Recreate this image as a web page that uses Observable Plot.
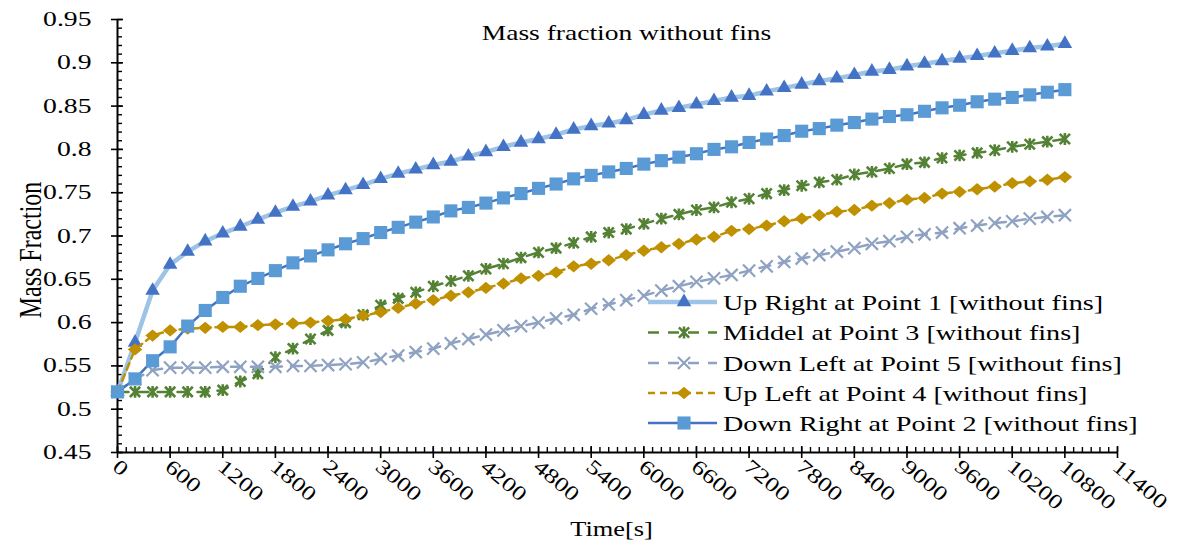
<!DOCTYPE html>
<html><head><meta charset="utf-8">
<script src="https://cdn.jsdelivr.net/npm/d3@7"></script>
<script src="https://cdn.jsdelivr.net/npm/@observablehq/plot@0.6"></script>
<style>html,body{margin:0;padding:0;background:#fff}</style>
</head><body><div id="chart"></div>
<script>
const times = [0,200,400,600,800,1000,1200,1400,1600,1800,2000,2200,2400,2600,2800,3000,3200,3400,3600,3800,4000,4200,4400,4600,4800,5000,5200,5400,5600,5800,6000,6200,6400,6600,6800,7000,7200,7400,7600,7800,8000,8200,8400,8600,8800,9000,9200,9400,9600,9800,10000,10200,10400,10600,10800];
const upRight = [0.520,0.577,0.637,0.667,0.682,0.694,0.703,0.711,0.719,0.727,0.734,0.740,0.747,0.753,0.759,0.766,0.772,0.777,0.782,0.786,0.792,0.797,0.803,0.808,0.812,0.817,0.823,0.827,0.830,0.834,0.840,0.845,0.848,0.852,0.856,0.860,0.862,0.867,0.871,0.875,0.879,0.882,0.886,0.890,0.892,0.896,0.899,0.902,0.905,0.908,0.911,0.914,0.917,0.919,0.922];
const middel = [0.520,0.520,0.520,0.520,0.520,0.520,0.522,0.532,0.541,0.560,0.570,0.581,0.591,0.600,0.609,0.620,0.628,0.635,0.642,0.648,0.654,0.662,0.668,0.675,0.681,0.686,0.692,0.699,0.704,0.708,0.714,0.720,0.725,0.730,0.733,0.739,0.743,0.749,0.753,0.758,0.762,0.765,0.771,0.774,0.778,0.783,0.785,0.790,0.793,0.796,0.799,0.803,0.806,0.809,0.812];
const downLeft = [0.520,0.535,0.545,0.548,0.548,0.548,0.549,0.549,0.549,0.549,0.550,0.550,0.551,0.552,0.554,0.558,0.562,0.566,0.570,0.576,0.581,0.586,0.591,0.596,0.600,0.605,0.609,0.616,0.621,0.626,0.631,0.637,0.642,0.647,0.651,0.655,0.660,0.665,0.670,0.674,0.678,0.682,0.686,0.691,0.694,0.699,0.702,0.704,0.709,0.712,0.715,0.717,0.720,0.722,0.724];
const upLeft = [0.520,0.569,0.585,0.591,0.593,0.594,0.595,0.595,0.597,0.598,0.599,0.600,0.602,0.604,0.608,0.612,0.617,0.622,0.626,0.631,0.635,0.640,0.645,0.651,0.654,0.658,0.665,0.668,0.672,0.678,0.683,0.687,0.691,0.696,0.699,0.706,0.708,0.712,0.717,0.720,0.724,0.728,0.730,0.735,0.738,0.742,0.744,0.749,0.751,0.754,0.757,0.761,0.763,0.765,0.768];
const downRight = [0.520,0.535,0.556,0.572,0.596,0.614,0.629,0.642,0.651,0.660,0.669,0.677,0.684,0.691,0.697,0.704,0.710,0.716,0.722,0.729,0.733,0.738,0.744,0.749,0.755,0.760,0.766,0.770,0.774,0.778,0.783,0.787,0.791,0.795,0.800,0.803,0.808,0.812,0.816,0.821,0.824,0.828,0.831,0.835,0.838,0.840,0.844,0.848,0.851,0.855,0.858,0.860,0.863,0.866,0.869];

const seriesNames = ["Up Right at Point 1 [without fins]","Middel at Point 3 [without fins]","Down Left at Point 5 [without fins]","Up Left at Point 4 [without fins]","Down Right at Point 2 [without fins]"];
const xTicks = [0,600,1200,1800,2400,3000,3600,4200,4800,5400,6000,6600,7200,7800,8400,9000,9600,10200,10800,11400];
const xTickLabels = ["0","600","1200","1800","2400","3000","3600","4200","4800","5400","6000","6600","7200","7800","8400","9000","9600","10200","10800","11400"];
const yTicks = [0.45,0.5,0.55,0.6,0.65,0.7,0.75,0.8,0.85,0.9,0.95];
const yTickLabels = ["0.45","0.5","0.55","0.6","0.65","0.7","0.75","0.8","0.85","0.9","0.95"];
const titleText = "Mass fraction without fins";
const xTitle = "Time[s]";
const yTitle = "Mass Fraction";

const W = 1179, H = 544, mL = 117, mR = 62, mT = 19, mB = 92;
const IW = W - mL - mR, IH = H - mT - mB;
const xMinor = d3.range(0, 11401, 100);
const yMinor = d3.range(45, 96, 1).map(d => d / 100);

const excelStar = {draw(ctx, size) {
  const r = Math.sqrt(size) * 0.5;
  ctx.moveTo(-r, -r); ctx.lineTo(r, r);
  ctx.moveTo(-r, r); ctx.lineTo(r, -r);
  ctx.moveTo(0, -r * 1.15); ctx.lineTo(0, r * 1.15);
}};
const wideDiamond = {draw(ctx, size) {
  const w = Math.sqrt(size) * 0.62, h = w * 0.85;
  ctx.moveTo(0, -h); ctx.lineTo(w, 0); ctx.lineTo(0, h); ctx.lineTo(-w, 0); ctx.closePath();
}};

const styles = [
  {values: upRight, line: "#9DC3E6", lw: 4.5, dash: null, symbol: "triangle", fill: "#4472C4", stroke: "none", r: 5.4, sw: 0},
  {values: middel, line: "#548235", lw: 2.5, dash: "11,9", symbol: excelStar, fill: "none", stroke: "#548235", r: 5.8, sw: 2.6},
  {values: downLeft, line: "#8FA2C2", lw: 2.5, dash: "11,9", symbol: "times", fill: "none", stroke: "#8FA2C2", r: 5.6, sw: 2.2},
  {values: upLeft, line: "#BF9000", lw: 2.5, dash: "7,5", symbol: wideDiamond, fill: "#BF9000", stroke: "none", r: 6.6, sw: 0},
  {values: downRight, line: "#4472C4", lw: 2.5, dash: null, symbol: "square", fill: "#5B9BD5", stroke: "none", r: 7.4, sw: 0}
];

const seriesMarks = styles.flatMap((s, k) => {
  const data = times.map((t, i) => ({t, v: s.values[i]}));
  return [
    Plot.line(data, {x: "t", y: "v", stroke: s.line, strokeWidth: s.lw, strokeDasharray: s.dash, strokeLinejoin: "round"}),
    Plot.dot(data, {x: "t", y: "v", symbol: s.symbol, r: s.r, fill: s.fill, stroke: s.stroke, strokeWidth: s.sw})
  ];
});

const plot = Plot.plot({
  width: W, height: H,
  marginLeft: mL, marginRight: mR, marginTop: mT, marginBottom: mB,
  style: {fontFamily: "'Liberation Serif', 'Times New Roman', serif", background: "#fff", color: "#000", overflow: "visible"},
  x: {domain: [0, 11400], axis: null},
  y: {domain: [0.45, 0.95], axis: null},
  marks: [
    Plot.tickX(xMinor, {x: d => d, insetTop: IH - 5, stroke: "#000", strokeWidth: 1.4}),
    Plot.tickX(xTicks, {x: d => d, insetTop: IH - 6, insetBottom: -6, stroke: "#000", strokeWidth: 1.6}),
    Plot.tickY(yMinor, {y: d => d, insetRight: IW - 5, stroke: "#000", strokeWidth: 1.4}),
    Plot.tickY(yTicks, {y: d => d, insetRight: IW - 6, insetLeft: -6, stroke: "#000", strokeWidth: 1.6}),
    Plot.ruleX([0], {stroke: "#000", strokeWidth: 2}),
    Plot.ruleY([0.45], {stroke: "#000", strokeWidth: 2}),
    Plot.text(yTicks, {y: d => d, text: (d, i) => yTickLabels[i], frameAnchor: "left", textAnchor: "end", lineAnchor: "middle", dx: -26, fontSize: 20.5, fill: "#000"}),
    Plot.text(xTicks, {x: d => d, text: (d, i) => xTickLabels[i], frameAnchor: "bottom", textAnchor: "start", lineAnchor: "top", rotate: 40, dx: 3, dy: 5, fontSize: 20.5, fill: "#000"}),
    Plot.text([titleText], {text: d => d, frameAnchor: "top", textAnchor: "middle", lineAnchor: "middle", dx: 9, dy: 13, fontSize: 22, fill: "#000"}),
    Plot.text([xTitle], {text: d => d, frameAnchor: "bottom", textAnchor: "middle", lineAnchor: "middle", dx: -6, dy: 76, fontSize: 22, fill: "#000"}),
    Plot.text([yTitle], {text: d => d, frameAnchor: "left", textAnchor: "middle", lineAnchor: "middle", rotate: -90, dx: -87, dy: 14, fontSize: 24, fill: "#000"}),
    ...seriesMarks
  ]
});

document.getElementById("chart").append(plot);

function setStretch(t, f) {
  const L = t.getComputedTextLength();
  t.setAttribute("textLength", (L * f).toFixed(1));
  t.setAttribute("lengthAdjust", "spacingAndGlyphs");
}
plot.querySelectorAll("text").forEach(t => {
  const s = t.textContent;
  if (yTickLabels.includes(s)) setStretch(t, 1.35);
  else if (xTickLabels.includes(s)) setStretch(t, 1.28);
  else if (s === titleText) setStretch(t, 1.25);
  else if (s === xTitle) setStretch(t, 1.2);
  else if (s === yTitle) {
    const tr = t.getAttribute("transform") || "";
    t.setAttribute("transform", tr.replace("rotate(", "scale(1.3,1) rotate("));
  }
});

// legend (inside plot area, lower right)
const svg = d3.select(plot);
const lg = svg.append("g").attr("font-family", "'Liberation Serif', 'Times New Roman', serif").attr("text-anchor", "start");
const rowY = [302, 332.5, 363, 393, 423];
const symMap = {triangle: d3.symbolTriangle, times: d3.symbolTimes, square: d3.symbolSquare};
styles.forEach((s, k) => {
  const y = rowY[k];
  lg.append("line").attr("x1", 648).attr("x2", 717).attr("y1", y).attr("y2", y)
    .attr("stroke", s.line).attr("stroke-width", s.lw).attr("stroke-dasharray", s.dash);
  const sym = typeof s.symbol === "string" ? symMap[s.symbol] : s.symbol;
  lg.append("path").attr("transform", `translate(684,${y})`)
    .attr("d", d3.symbol(sym, Math.PI * s.r * s.r)())
    .attr("fill", s.fill).attr("stroke", s.stroke).attr("stroke-width", s.sw);
  const t = lg.append("text").attr("x", 723).attr("y", y).attr("dy", "0.35em")
    .attr("text-anchor", "start").attr("font-size", 22).attr("fill", "#000").text(seriesNames[k]);
  setStretch(t.node(), 1.28);
});
</script>
</body></html>
